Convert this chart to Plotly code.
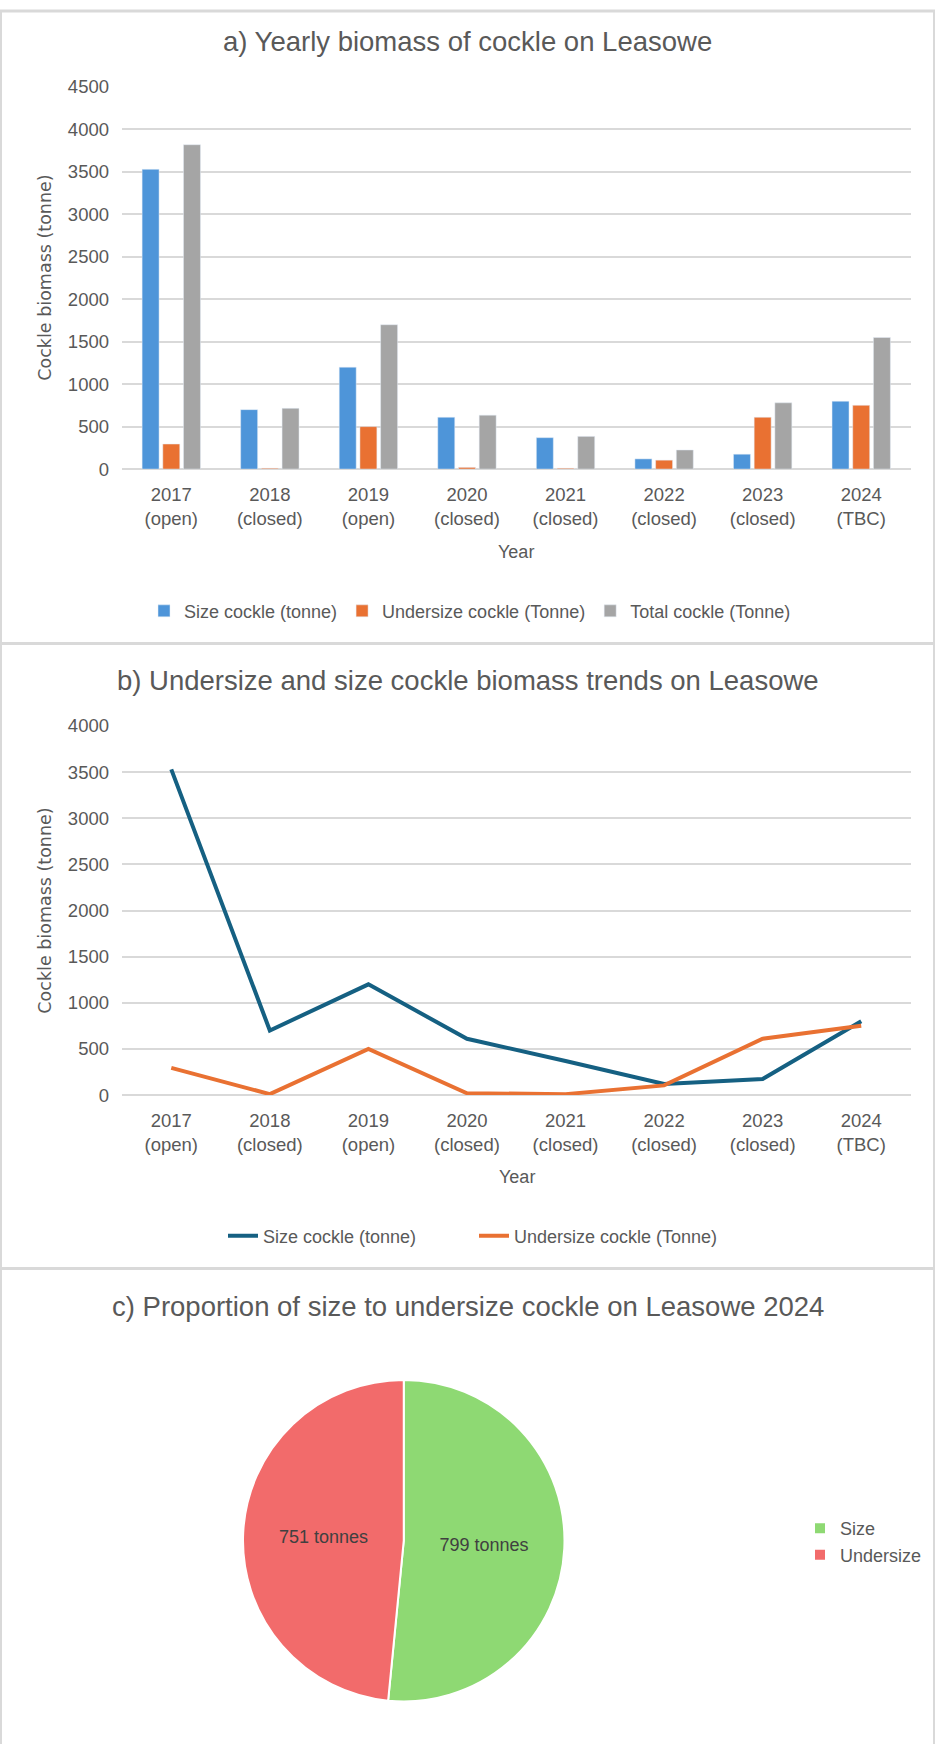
import plotly.graph_objects as go

W, H = 935, 1754

# ---- data ----
years = ["2017<br>(open)", "2018<br>(closed)", "2019<br>(open)", "2020<br>(closed)",
         "2021<br>(closed)", "2022<br>(closed)", "2023<br>(closed)", "2024<br>(TBC)"]
size_t = [3530, 700, 1200, 610, 370, 120, 175, 799]
under_t = [295, 10, 500, 20, 10, 105, 610, 751]
total_t = [3820, 715, 1700, 635, 385, 225, 780, 1550]
pie_labels = ["Size", "Undersize"]
pie_values = [799, 751]

TXT = "#595959"
GRID = "#D9D9D9"
FONT = "Liberation Sans, Arial, sans-serif"

# the page is captured with a small vertical offset/squeeze; compensate
OFF, SQ = 8.9, 0.9896


def px(x):
    return x / W


def py(y):
    yf = (y - OFF) / SQ
    return 1 - yf / H


fig = go.Figure()

# ---- panel a: bars ----
fig.add_trace(go.Bar(x=years, y=size_t, name="Size cockle (tonne)", marker_color="#4E95D9",
                     xaxis="x", yaxis="y", legend="legend"))
fig.add_trace(go.Bar(x=years, y=under_t, name="Undersize cockle (Tonne)", marker_color="#E97132",
                     xaxis="x", yaxis="y", legend="legend"))
fig.add_trace(go.Bar(x=years, y=total_t, name="Total cockle (Tonne)", marker_color="#A5A5A5",
                     xaxis="x", yaxis="y", legend="legend"))

# ---- panel b: lines ----
fig.add_trace(go.Scatter(x=years, y=size_t, name="Size cockle (tonne)", mode="lines",
                         line=dict(color="#156082", width=4), xaxis="x2", yaxis="y2", legend="legend2"))
fig.add_trace(go.Scatter(x=years, y=under_t, name="Undersize cockle (Tonne)", mode="lines",
                         line=dict(color="#E97132", width=4), xaxis="x2", yaxis="y2", legend="legend2"))

# ---- panel c: pie ----
fig.add_trace(go.Pie(labels=pie_labels, values=pie_values, sort=False, direction="clockwise",
                     rotation=0, marker=dict(colors=["#8ED973", "#F26B6B"], line=dict(color="white", width=2)),
                     texttemplate="%{value} tonnes", textposition="inside",
                     insidetextorientation="horizontal", textfont=dict(size=18, color="#404040", family=FONT),
                     domain=dict(x=[px(243), px(564.5)], y=[py(1702), py(1380)]),
                     legend="legend3", hoverinfo="label+value"))

xax = dict(type="category", range=[-0.5, 7.5], showgrid=False, showline=False, zeroline=False,
           ticks="", tickfont=dict(size=18.5, color=TXT, family=FONT), ticklabelstandoff=12,
           domain=[px(122), px(910.5)])
yax_common = dict(showgrid=True, gridcolor=GRID, gridwidth=1.5, zeroline=True, zerolinecolor=GRID,
                  zerolinewidth=1.5, showline=False, ticks="", dtick=500,
                  tickfont=dict(size=18.5, color=TXT, family=FONT), ticklabelstandoff=12)

legend_common = dict(orientation="h", xanchor="center", yanchor="middle", bgcolor="rgba(0,0,0,0)",
                     font=dict(size=18, color=TXT, family=FONT))

fig.update_layout(
    width=W, height=H, margin=dict(l=0, r=0, t=0, b=0),
    paper_bgcolor="white", plot_bgcolor="white",
    font=dict(family=FONT, color=TXT),
    barmode="group", bargap=0.37, bargroupgap=0.18,
    xaxis=dict(**xax, anchor="y"),
    yaxis=dict(**yax_common, range=[0, 4500], domain=[py(467.7), py(85)], anchor="x"),
    xaxis2=dict(**xax, anchor="y2"),
    yaxis2=dict(**yax_common, range=[0, 4000], domain=[py(1094.7), py(725)], anchor="x2"),
    legend=dict(**legend_common, x=px(470), y=py(610), itemwidth=30),
    legend2=dict(**legend_common, x=px(474), y=py(1236), entrywidth=206, entrywidthmode="pixels"),
    legend3=dict(orientation="v", xanchor="left", yanchor="middle", x=px(800), y=py(1542),
                 bgcolor="rgba(0,0,0,0)", itemwidth=30, font=dict(size=18, color=TXT, family=FONT)),
    showlegend=True,
)

# titles and axis titles
ann = [
    dict(text="a) Yearly biomass of cockle on Leasowe", x=px(467.5), y=py(39), size=27.5),
    dict(text="b) Undersize and size cockle biomass trends on Leasowe", x=px(467.5), y=py(679.5), size=27.5),
    dict(text="c) Proportion of size to undersize cockle on Leasowe 2024", x=px(467.5), y=py(1306.7), size=27.5),
    dict(text="Year", x=px(516), y=py(551), size=18),
    dict(text="Year", x=px(517), y=py(1176.6), size=18),
]
for a in ann:
    fig.add_annotation(text=a["text"], x=a["x"], y=a["y"], xref="paper", yref="paper",
                       xanchor="center", yanchor="middle", showarrow=False,
                       font=dict(size=a["size"], color=TXT, family=FONT))
for yy in (276, 910):
    fig.add_annotation(text="Cockle biomass (tonne)", x=px(45), y=py(yy), xref="paper", yref="paper",
                       xanchor="center", yanchor="middle", showarrow=False, textangle=-90,
                       font=dict(size=17.5, color=TXT, family="DejaVu Sans, sans-serif"))

# panel borders
shapes = []
for y0, w in ((642.5, 3), (1268.5, 3)):
    shapes.append(dict(type="line", xref="paper", yref="paper", x0=0, x1=1, y0=py(y0), y1=py(y0),
                       line=dict(color=GRID, width=w)))
for x0 in (1, 934):
    shapes.append(dict(type="line", xref="paper", yref="paper", x0=px(x0), x1=px(x0), y0=0, y1=1,
                       line=dict(color=GRID, width=2)))
shapes.append(dict(type="line", xref="paper", yref="paper", x0=0, x1=1, y0=1, y1=1,
                   line=dict(color=GRID, width=3)))
fig.update_layout(shapes=shapes)

fig.write_html("out.html", config={"displayModeBar": False},
               post_script="document.body.style.margin='0';document.documentElement.style.margin='0';")
